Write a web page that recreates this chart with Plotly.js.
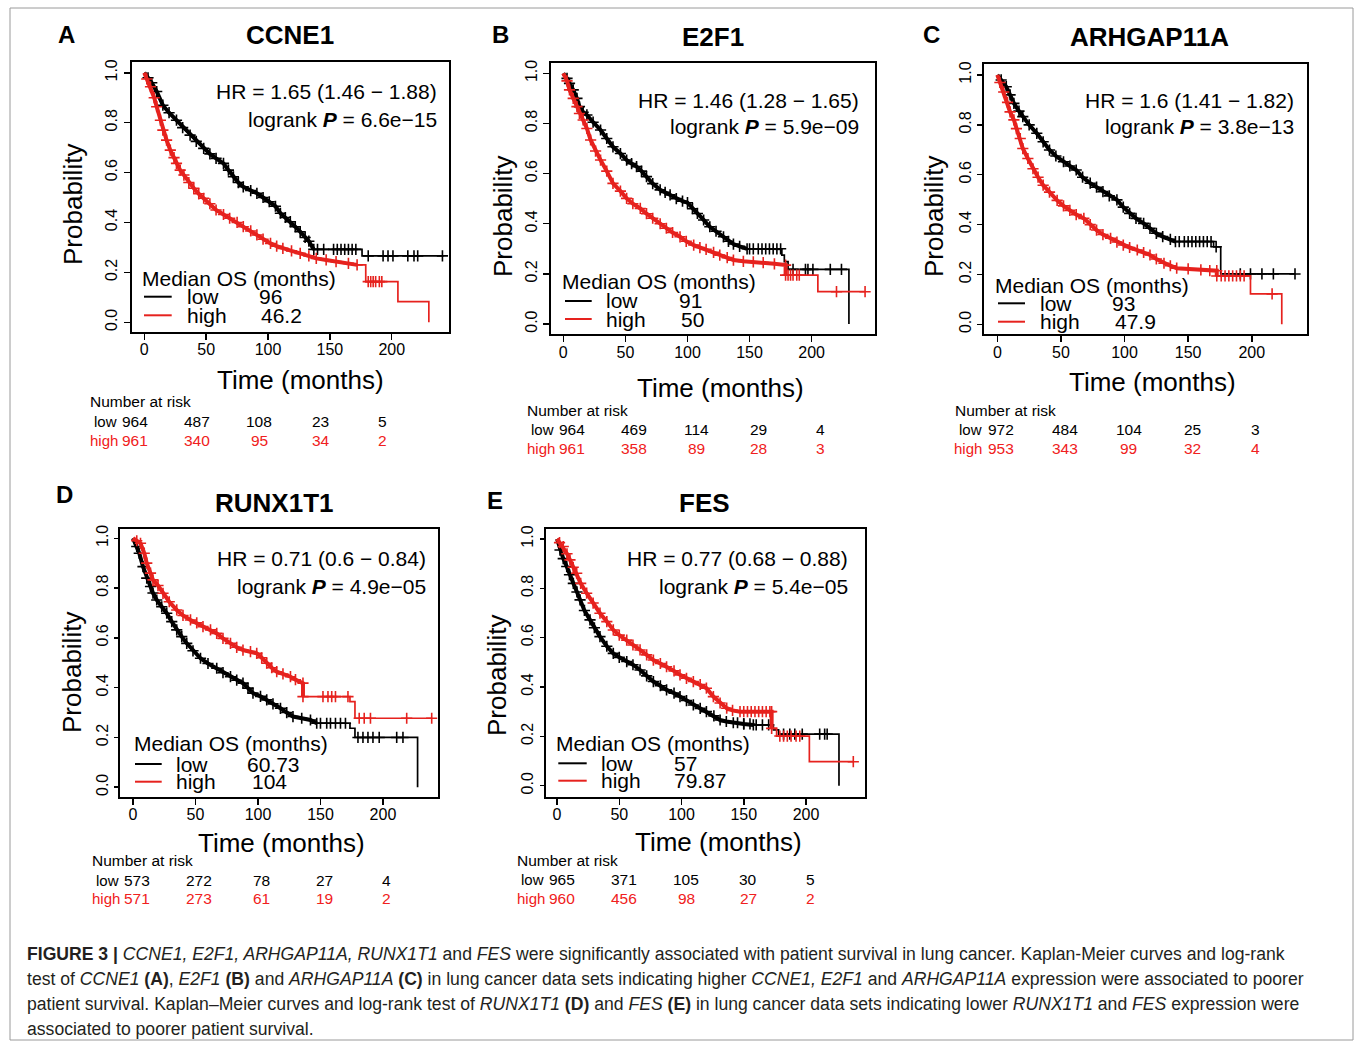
<!DOCTYPE html>
<html>
<head>
<meta charset="utf-8">
<script src="https://cdn.plot.ly/plotly-3.0.1.min.js"></script>
<style>html,body{margin:0;padding:0;background:#fff;}#chart{width:1355px;height:1045px;}</style>
</head>
<body>
<div id="chart"></div>
<script>
// ---------------- DATA ----------------
const timeTicks = [0, 50, 100, 150, 200];
const probTicks = [0, 0.2, 0.4, 0.6, 0.8, 1.0];
const probTickText = ['0.0', '0.2', '0.4', '0.6', '0.8', '1.0'];
const panelLetters = ['A', 'B', 'C', 'D', 'E'];
const genes = ['CCNE1', 'E2F1', 'ARHGAP11A', 'RUNX1T1', 'FES'];
const hrText = ['1.65 (1.46 − 1.88)', '1.46 (1.28 − 1.65)', '1.6 (1.41 − 1.82)', '0.71 (0.6 − 0.84)', '0.77 (0.68 − 0.88)'];
const logrankP = ['6.6e−15', '5.9e−09', '3.8e−13', '4.9e−05', '5.4e−05'];
const medianLow = ['96', '91', '93', '60.73', '57'];
const medianHigh = ['46.2', '50', '47.9', '104', '79.87'];
const riskLow = [[964, 487, 108, 23, 5], [964, 469, 114, 29, 4], [972, 484, 104, 25, 3], [573, 272, 78, 27, 4], [965, 371, 105, 30, 5]];
const riskHigh = [[961, 340, 95, 34, 2], [961, 358, 89, 28, 3], [953, 343, 99, 32, 4], [571, 273, 61, 19, 2], [960, 456, 98, 27, 2]];

// CCNE1
const ccne1LowT = [0, 3, 6, 10, 15, 20, 26, 31, 37, 42, 48, 53, 58, 64, 68, 72, 76, 80, 86, 91, 96, 101, 106, 110, 114, 118, 122, 126, 130, 133, 137, 176, 176, 242];
const ccne1LowS = [1, 0.98, 0.96, 0.925, 0.87, 0.84, 0.81, 0.78, 0.75, 0.725, 0.697, 0.675, 0.657, 0.637, 0.61, 0.583, 0.56, 0.543, 0.528, 0.517, 0.5, 0.483, 0.465, 0.437, 0.42, 0.403, 0.383, 0.363, 0.34, 0.325, 0.292, 0.292, 0.266, 0.266];
const ccne1LowCens = [140, 145, 153, 156, 159, 162, 165, 168, 171, 181, 193, 197, 201, 213, 218, 221, 241];
const ccne1HighT = [0, 2, 5, 8, 10, 13, 15, 18, 21, 24, 26, 29, 32, 36, 40, 44, 48, 53, 58, 64, 69, 75, 80, 86, 91, 96, 102, 107, 112, 119, 126, 133, 139, 147, 155, 165, 172, 179, 179, 205, 205, 230, 230];
const ccne1HighS = [1, 0.975, 0.944, 0.9, 0.864, 0.81, 0.77, 0.73, 0.69, 0.66, 0.637, 0.61, 0.59, 0.56, 0.537, 0.515, 0.497, 0.475, 0.45, 0.432, 0.417, 0.4, 0.383, 0.366, 0.35, 0.333, 0.316, 0.305, 0.296, 0.286, 0.276, 0.266, 0.256, 0.25, 0.243, 0.236, 0.23, 0.23, 0.163, 0.163, 0.083, 0.083, 0];
const ccne1HighCens = [181, 183, 185, 187, 190, 192];

// E2F1
const e2f1LowT = [0, 3, 5, 8, 11, 13, 16, 19, 24, 30, 35, 40, 46, 51, 55, 59, 63, 67, 72, 78, 82, 86, 91, 96, 100, 104, 108, 113, 118, 123, 129, 133, 137, 142, 148, 176, 176, 178, 178, 181, 181, 230, 230];
const e2f1LowS = [1, 0.98, 0.96, 0.934, 0.9, 0.867, 0.845, 0.834, 0.805, 0.774, 0.74, 0.707, 0.68, 0.654, 0.64, 0.628, 0.61, 0.588, 0.56, 0.535, 0.525, 0.515, 0.5, 0.49, 0.484, 0.46, 0.441, 0.415, 0.388, 0.37, 0.348, 0.33, 0.319, 0.31, 0.3, 0.298, 0.275, 0.275, 0.249, 0.249, 0.218, 0.218, 0];
const e2f1LowCens = [150, 153, 157, 160, 163, 166, 169, 172, 175, 185, 195, 197, 201, 215, 224];
const e2f1HighT = [0, 3, 5, 8, 11, 13, 16, 19, 22, 26, 30, 35, 40, 46, 51, 56, 62, 67, 72, 78, 83, 88, 94, 99, 105, 110, 115, 121, 126, 132, 137, 145, 153, 161, 170, 179, 179, 205, 205, 243];
const e2f1HighS = [1, 0.97, 0.934, 0.9, 0.867, 0.84, 0.814, 0.78, 0.734, 0.69, 0.654, 0.61, 0.561, 0.53, 0.501, 0.48, 0.461, 0.44, 0.422, 0.4, 0.382, 0.365, 0.348, 0.33, 0.315, 0.305, 0.298, 0.286, 0.275, 0.265, 0.255, 0.25, 0.248, 0.245, 0.24, 0.235, 0.195, 0.195, 0.129, 0.129];
const e2f1HighCens = [181, 183, 185, 188, 190, 220, 243];

// ARHGAP11A
const arhgapLowT = [0, 3, 7, 10, 13, 17, 20, 25, 31, 36, 41, 46, 52, 57, 62, 67, 73, 78, 83, 88, 94, 99, 104, 109, 115, 120, 125, 130, 136, 140, 170, 170, 175.6, 175.6, 234];
const arhgapLowS = [1, 0.98, 0.953, 0.92, 0.886, 0.855, 0.833, 0.8, 0.766, 0.732, 0.699, 0.675, 0.652, 0.635, 0.619, 0.59, 0.566, 0.55, 0.532, 0.515, 0.499, 0.47, 0.445, 0.425, 0.405, 0.385, 0.365, 0.352, 0.341, 0.332, 0.332, 0.311, 0.311, 0.202, 0.202];
const arhgapLowCens = [143, 147, 150, 153, 156, 159, 162, 165, 168, 172, 191, 199, 208, 217, 234];
const arhgapHighT = [0, 2, 5, 8, 10, 13, 15, 18, 20, 24, 28, 32, 36, 41, 47, 52, 57, 62, 68, 73, 78, 83, 89, 94, 99, 104, 110, 115, 120, 125, 131, 136, 141, 150, 160, 167, 172.5, 172.5, 199, 199, 223.6, 223.6];
const arhgapHighS = [1, 0.97, 0.932, 0.89, 0.852, 0.82, 0.785, 0.745, 0.705, 0.665, 0.624, 0.59, 0.558, 0.53, 0.497, 0.475, 0.457, 0.44, 0.425, 0.4, 0.378, 0.36, 0.345, 0.33, 0.318, 0.308, 0.298, 0.288, 0.278, 0.262, 0.245, 0.235, 0.225, 0.222, 0.218, 0.215, 0.215, 0.194, 0.194, 0.122, 0.122, 0];
const arhgapHighCens = [176, 179, 182, 185, 188, 191, 194, 216];

// RUNX1T1
const runxLowT = [0, 3, 5, 8, 11, 14, 16, 19, 23, 27, 31, 35, 39, 43, 48, 54, 60, 67, 72, 78, 83, 88, 92, 96, 102, 107, 112, 118, 123, 128, 135, 142, 147, 173.6, 173.6, 177.6, 177.6, 227.7, 227.7];
const runxLowS = [1, 0.967, 0.94, 0.886, 0.84, 0.806, 0.78, 0.752, 0.725, 0.699, 0.665, 0.632, 0.605, 0.578, 0.548, 0.518, 0.497, 0.478, 0.46, 0.444, 0.43, 0.418, 0.398, 0.378, 0.365, 0.351, 0.335, 0.317, 0.3, 0.284, 0.277, 0.27, 0.257, 0.257, 0.237, 0.237, 0.2, 0.2, 0];
const runxLowCens = [150, 155, 158, 162, 166, 170, 180, 184, 188, 192, 197, 211, 216];
const runxHighT = [0, 3, 6, 9, 11, 14, 16, 20, 24, 29, 35, 40, 46, 51, 56, 62, 67, 72, 78, 83, 88, 94, 99, 103, 107, 111, 115, 120, 126, 130, 136, 136, 173.6, 173.6, 177.6, 177.6, 239];
const runxHighS = [1, 0.99, 0.98, 0.94, 0.9, 0.86, 0.833, 0.81, 0.779, 0.745, 0.712, 0.69, 0.672, 0.66, 0.645, 0.632, 0.618, 0.598, 0.578, 0.562, 0.551, 0.545, 0.538, 0.52, 0.498, 0.48, 0.464, 0.455, 0.444, 0.432, 0.418, 0.364, 0.364, 0.344, 0.344, 0.277, 0.277];
const runxHighCens = [152, 156, 159, 162, 172, 181, 185, 190, 219, 239];

// FES
const fesLowT = [0, 2.4, 5, 7.8, 10, 13.1, 16, 18.5, 22, 26.5, 30, 34.5, 40, 45.2, 50, 56, 61, 66.7, 72, 77.4, 83, 88, 94, 98.8, 104, 109.5, 115, 120, 126, 131, 136, 141.6, 150, 157.7, 173.8, 173.8, 178, 178, 226.5, 226.5];
const fesLowS = [1, 0.955, 0.92, 0.888, 0.855, 0.82, 0.785, 0.753, 0.71, 0.672, 0.64, 0.604, 0.565, 0.536, 0.52, 0.503, 0.49, 0.469, 0.445, 0.422, 0.405, 0.388, 0.375, 0.361, 0.345, 0.327, 0.313, 0.3, 0.283, 0.266, 0.26, 0.255, 0.25, 0.246, 0.246, 0.226, 0.226, 0.209, 0.209, 0];
const fesLowCens = [145, 150, 155, 160, 165, 170, 182, 187, 191, 197, 211, 215, 217];
const fesHighT = [0, 2, 5, 8, 10.4, 13, 15.8, 19, 23.8, 29, 34.5, 40, 45.2, 50, 56, 61, 66.7, 72, 77.4, 83, 88, 94, 98.8, 104, 109.5, 115, 120, 125.6, 131, 136.3, 141, 147, 172.4, 172.4, 176.4, 176.4, 202.7, 202.7, 238];
const fesHighS = [1, 0.985, 0.969, 0.94, 0.915, 0.885, 0.861, 0.82, 0.78, 0.74, 0.699, 0.665, 0.631, 0.61, 0.59, 0.57, 0.55, 0.53, 0.509, 0.495, 0.482, 0.465, 0.449, 0.435, 0.422, 0.41, 0.395, 0.361, 0.335, 0.314, 0.305, 0.3, 0.3, 0.232, 0.232, 0.201, 0.201, 0.097, 0.097];
const fesHighCens = [150, 153, 156, 159, 162, 165, 168, 171, 179, 182, 185, 188, 192, 195, 238];

const curves = [
  {low: [ccne1LowT, ccne1LowS, ccne1LowCens], high: [ccne1HighT, ccne1HighS, ccne1HighCens]},
  {low: [e2f1LowT, e2f1LowS, e2f1LowCens], high: [e2f1HighT, e2f1HighS, e2f1HighCens]},
  {low: [arhgapLowT, arhgapLowS, arhgapLowCens], high: [arhgapHighT, arhgapHighS, arhgapHighCens]},
  {low: [runxLowT, runxLowS, runxLowCens], high: [runxHighT, runxHighS, runxHighCens]},
  {low: [fesLowT, fesLowS, fesLowCens], high: [fesHighT, fesHighS, fesHighCens]}
];

// ---------------- LAYOUT / STYLE ----------------
const W = 1355, H = 1045;
const px = x => x / W;
const py = y => 1 - y / H;
const FONT = 'Liberation Sans, Arial, Helvetica, sans-serif';
const BLACK = '#000000';
const RED = '#e6221e';
const RED_TXT = '#f02020';

const layoutPos = [
  {box: [131.7, 62.3, 449, 332], xr: [-10.2, 246.3], yr: [-0.039, 1.042], letter: [66.7, 35], title: [290, 35],
   prob: [73, 205], time: [300, 380], hr: [439, 91.7, 119.3], yStand: 0, yTick: 6,
   med: {hdr: [140, 278.3], line: [144, 171.7], lowY: 296.7, highY: 315.3, word: 185, val: [257.3, 259.3]},
   risk: {hdr: [88.3, 401.7], lowY: 421.7, highY: 440.5, lowX: 91.7, highX: 88.3, shift: -9},
   dense: [137, 178]},
  {box: [551, 63.3, 875, 334.3], xr: [-9.9, 251], yr: [-0.041, 1.04], letter: [500.8, 35], title: [713, 36.7],
   prob: [503, 217], time: [720, 388.3], hr: [861, 100, 126.7], yStand: 0, yTick: 6,
   med: {hdr: [560, 281.7], line: [565, 591.7], lowY: 301, highY: 319, word: 604.3, val: [676.7, 679.3]},
   risk: {hdr: [525, 410], lowY: 429.3, highY: 448.3, lowX: 529, highX: 525, shift: 9},
   dense: [148, 179]},
  {box: [984, 64, 1306.7, 334.3], xr: [-10.5, 243.2], yr: [-0.040, 1.044], letter: [931, 35], title: [1149, 36.7],
   prob: [934, 217], time: [1152.5, 381.7], hr: [1296, 100, 126], yStand: 0, yTick: 5,
   med: {hdr: [993.3, 285], line: [998, 1025], lowY: 303.3, highY: 321.7, word: 1038.3, val: [1110, 1113.3]},
   risk: {hdr: [953.3, 410], lowY: 429.3, highY: 448.3, lowX: 956.7, highX: 951.7, shift: 4},
   dense: [140, 172.5]},
  {box: [120, 529.3, 437.7, 796.7], xr: [-10.4, 243.8], yr: [-0.038, 1.036], letter: [64, 495], title: [274, 503],
   prob: [72, 673], time: [281.7, 842.7], hr: [428, 558.3, 586.7], yStand: 0, yTick: 4,
   med: {hdr: [131.7, 743.3], line: [135, 161.7], lowY: 764, highY: 781.7, word: 174, val: [245, 250]},
   risk: {hdr: [90, 860.7], lowY: 880, highY: 898.3, lowX: 94, highX: 90, shift: 4},
   dense: [147, 136]},
  {box: [545.7, 529.3, 865, 797], xr: [-9.1, 247.4], yr: [-0.046, 1.039], letter: [495, 500], title: [705, 503],
   prob: [497, 675], time: [718, 841.7], hr: [850, 558.3, 586.7], yStand: 0, yTick: 4,
   med: {hdr: [554, 743.3], line: [558.3, 586.7], lowY: 763.3, highY: 780.7, word: 599, val: [671.7, 672.3]},
   risk: {hdr: [515, 860], lowY: 879.3, highY: 898.3, lowX: 519, highX: 515, shift: 4.5},
   dense: [157.7, 172.4]}
];

function stepValue(t, s, x) {
  let v = s[0];
  for (let i = 0; i < t.length; i++) { if (t[i] <= x) v = s[i]; }
  return v;
}

const traces = [];
const annotations = [];
const shapes = [];
const layout = {
  width: W, height: H,
  margin: {l: 0, r: 0, t: 0, b: 0},
  paper_bgcolor: '#ffffff', plot_bgcolor: '#ffffff',
  showlegend: false,
  font: {family: FONT, color: '#000'}
};

layoutPos.forEach((p, i) => {
  const n = i + 1;
  const xa = 'x' + (n === 1 ? '' : n), ya = 'y' + (n === 1 ? '' : n);
  const xKey = 'xaxis' + (n === 1 ? '' : n), yKey = 'yaxis' + (n === 1 ? '' : n);
  layout[xKey] = {
    domain: [px(p.box[0]), px(p.box[2])], anchor: ya, range: p.xr,
    tickmode: 'array', tickvals: timeTicks, ticktext: timeTicks.map(String),
    ticks: 'outside', ticklen: 6, tickwidth: 1.5, tickcolor: '#000', ticklabelstandoff: -4,
    showline: true, mirror: true, linewidth: 2, linecolor: '#000',
    showgrid: false, zeroline: false, fixedrange: true,
    tickfont: {family: FONT, size: 16, color: '#000'}
  };
  layout[yKey] = {
    domain: [py(p.box[3]), py(p.box[1])], anchor: xa, range: p.yr,
    tickmode: 'array', tickvals: probTicks, ticktext: probTickText, tickangle: -90,
    ticks: 'outside', ticklen: p.yTick, tickwidth: 1.5, tickcolor: '#000', ticklabelstandoff: p.yStand,
    showline: true, mirror: true, linewidth: 2, linecolor: '#000',
    showgrid: false, zeroline: false, fixedrange: true,
    tickfont: {family: FONT, size: 16, color: '#000'}
  };

  const groups = [['low', BLACK, 0], ['high', RED, 1]];
  groups.forEach(([g, col, gi]) => {
    const [t, s, cens] = curves[i][g];
    traces.push({x: t, y: s, xaxis: xa, yaxis: ya, type: 'scatter', mode: 'lines',
      line: {color: col, width: 1.7}, hoverinfo: 'skip'});
    const lim = p.dense[gi];
    const dt = [], ds = [];
    t.forEach((v, k) => { if (v <= lim) { dt.push(v); ds.push(s[k]); } });
    traces.push({x: dt, y: ds, xaxis: xa, yaxis: ya, type: 'scatter', mode: 'lines',
      line: {color: col, width: 4}, hoverinfo: 'skip'});
    const mx = dt.slice(1).concat(cens);
    const my = ds.slice(1).concat(cens.map(c => stepValue(t, s, c)));
    traces.push({x: mx, y: my, xaxis: xa, yaxis: ya, type: 'scatter', mode: 'markers',
      marker: {symbol: 'cross-thin', size: 8, line: {color: col, width: 1.6}}, hoverinfo: 'skip'});
  });

  // Panel letter and gene title
  annotations.push({xref: 'paper', yref: 'paper', x: px(p.letter[0]), y: py(p.letter[1]), xanchor: 'center', yanchor: 'middle',
    text: '<b>' + panelLetters[i] + '</b>', showarrow: false, font: {family: FONT, size: 24, color: '#000'}});
  annotations.push({xref: 'paper', yref: 'paper', x: px(p.title[0]), y: py(p.title[1]), xanchor: 'center', yanchor: 'middle',
    text: '<b>' + genes[i] + '</b>', showarrow: false, font: {family: FONT, size: 26, color: '#000'}});
  // Axis titles
  annotations.push({xref: 'paper', yref: 'paper', x: px(p.prob[0]), y: py(p.prob[1]), xanchor: 'center', yanchor: 'middle',
    text: 'Probability', textangle: -90, showarrow: false, font: {family: FONT, size: 26, color: '#000'}});
  annotations.push({xref: 'paper', yref: 'paper', x: px(p.time[0]), y: py(p.time[1]), xanchor: 'center', yanchor: 'middle',
    text: 'Time (months)', showarrow: false, font: {family: FONT, size: 26, color: '#000'}});
  // HR / logrank
  annotations.push({xref: 'paper', yref: 'paper', x: px(p.hr[0]), y: py(p.hr[1]), xanchor: 'right', yanchor: 'middle',
    text: 'HR = ' + hrText[i], showarrow: false, font: {family: FONT, size: 21, color: '#000'}});
  annotations.push({xref: 'paper', yref: 'paper', x: px(p.hr[0]), y: py(p.hr[2]), xanchor: 'right', yanchor: 'middle',
    text: 'logrank <b><i>P</i></b> = ' + logrankP[i], showarrow: false, font: {family: FONT, size: 21, color: '#000'}});
  // Median OS legend
  const m = p.med;
  annotations.push({xref: 'paper', yref: 'paper', x: px(m.hdr[0]), y: py(m.hdr[1]), xanchor: 'left', yanchor: 'middle',
    text: 'Median OS (months)', showarrow: false, font: {family: FONT, size: 21, color: '#000'}});
  [['low', m.lowY, BLACK, medianLow[i], m.val[0]], ['high', m.highY, RED, medianHigh[i], m.val[1]]].forEach(([lbl, yy, col, val, vx]) => {
    shapes.push({type: 'line', xref: 'paper', yref: 'paper', x0: px(m.line[0]), x1: px(m.line[1]), y0: py(yy), y1: py(yy),
      line: {color: col, width: 2}});
    annotations.push({xref: 'paper', yref: 'paper', x: px(m.word), y: py(yy), xanchor: 'left', yanchor: 'middle',
      text: lbl, showarrow: false, font: {family: FONT, size: 21, color: '#000'}});
    annotations.push({xref: 'paper', yref: 'paper', x: px(vx), y: py(yy), xanchor: 'left', yanchor: 'middle',
      text: val, showarrow: false, font: {family: FONT, size: 21, color: '#000'}});
  });
  // Number at risk
  const r = p.risk;
  annotations.push({xref: 'paper', yref: 'paper', x: px(r.hdr[0]), y: py(r.hdr[1]), xanchor: 'left', yanchor: 'middle',
    text: 'Number at risk', showarrow: false, font: {family: FONT, size: 15.5, color: '#000'}});
  annotations.push({xref: 'paper', yref: 'paper', x: px(r.lowX), y: py(r.lowY), xanchor: 'left', yanchor: 'middle',
    text: 'low', showarrow: false, font: {family: FONT, size: 15, color: '#000'}});
  annotations.push({xref: 'paper', yref: 'paper', x: px(r.highX), y: py(r.highY), xanchor: 'left', yanchor: 'middle',
    text: 'high', showarrow: false, font: {family: FONT, size: 15, color: RED_TXT}});
  timeTicks.forEach((tt, k) => {
    annotations.push({xref: xa, yref: 'paper', x: tt, xshift: r.shift, y: py(r.lowY), xanchor: 'center', yanchor: 'middle',
      text: String(riskLow[i][k]), showarrow: false, font: {family: FONT, size: 15.5, color: '#000'}});
    annotations.push({xref: xa, yref: 'paper', x: tt, xshift: r.shift, y: py(r.highY), xanchor: 'center', yanchor: 'middle',
      text: String(riskHigh[i][k]), showarrow: false, font: {family: FONT, size: 15.5, color: RED_TXT}});
  });
});

// Caption
const captionLines = [
  '<b>FIGURE 3 |</b> <i>CCNE1, E2F1, ARHGAP11A, RUNX1T1</i> and <i>FES</i> were significantly associated with patient survival in lung cancer. Kaplan-Meier curves and log-rank',
  'test of <i>CCNE1</i> <b>(A)</b>, <i>E2F1</i> <b>(B)</b> and <i>ARHGAP11A</i> <b>(C)</b> in lung cancer data sets indicating higher <i>CCNE1, E2F1</i> and <i>ARHGAP11A</i> expression were associated to poorer',
  'patient survival. Kaplan–Meier curves and log-rank test of <i>RUNX1T1</i> <b>(D)</b> and <i>FES</i> <b>(E)</b> in lung cancer data sets indicating lower <i>RUNX1T1</i> and <i>FES</i> expression were',
  'associated to poorer patient survival.'
];
const captionY = [954, 979, 1004, 1029];
captionLines.forEach((txt, k) => {
  annotations.push({xref: 'paper', yref: 'paper', x: px(25), y: py(captionY[k]), xanchor: 'left', yanchor: 'middle',
    text: txt, showarrow: false, font: {family: FONT, size: 17.6, color: '#231f20'}});
});

// Outer frame
shapes.push({type: 'rect', xref: 'paper', yref: 'paper', x0: px(10), x1: px(1353), y0: py(1040), y1: py(8),
  line: {color: '#9a9a9a', width: 1}, fillcolor: 'rgba(0,0,0,0)', layer: 'below'});

layout.annotations = annotations;
layout.shapes = shapes;

Plotly.newPlot('chart', traces, layout, {staticPlot: true, displayModeBar: false});
</script>
</body>
</html>
